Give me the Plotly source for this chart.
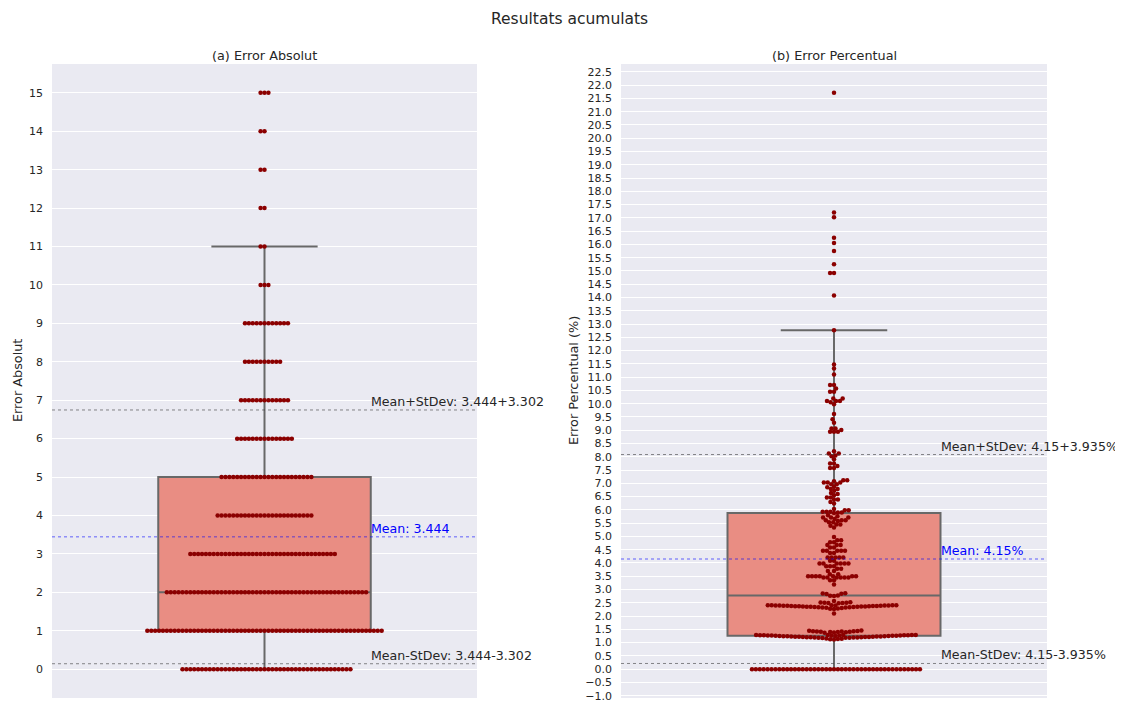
import numpy as np
import plotly.graph_objects as go

# ---------------- data ----------------
ABS_VALUES = [0, 1, 2, 3, 4, 5, 6, 7, 8, 9, 10, 11, 12, 13, 14, 15]
ABS_COUNTS = [44, 61, 52, 38, 25, 24, 15, 13, 10, 12, 3, 2, 2, 2, 2, 3]

PCT_ERROR = [
    0.0, 0.0, 0.0, 0.0, 0.0, 0.0, 0.0, 0.0, 0.0, 0.0, 0.0, 0.0, 0.0, 0.0, 0.0,
    0.0, 0.0, 0.0, 0.0, 0.0, 0.0, 0.0, 0.0, 0.0, 0.0, 0.0, 0.0, 0.0, 0.0, 0.0,
    0.0, 0.0, 0.0, 0.0, 0.0, 0.0, 0.0, 0.0, 0.0, 0.0, 0.0, 0.0, 0.0, 0.0,
    1.46, 1.45, 1.44, 1.43, 1.43, 1.42, 1.42, 1.41, 1.41, 1.40, 1.40, 1.39, 1.38, 1.37,
    1.29, 1.29, 1.29, 1.29, 1.29, 1.28, 1.28, 1.28, 1.28, 1.27, 1.27, 1.27,
    1.27, 1.26, 1.26, 1.26, 1.26, 1.25, 1.25, 1.25, 1.24, 1.24, 1.24, 1.23,
    1.23, 1.23, 1.22, 1.22, 1.22, 1.21, 1.21, 1.21, 1.20, 1.20, 1.20, 1.19,
    1.19, 1.19, 1.18, 1.18, 1.18, 1.17, 1.16, 1.15, 1.14, 1.13, 1.12,
    2.86, 2.85, 2.84, 2.83, 2.78, 2.77, 2.76,
    2.57, 2.52, 2.51, 2.50, 2.50, 2.49, 2.49, 2.48,
    2.41, 2.41, 2.41, 2.41, 2.41, 2.40, 2.40, 2.40, 2.40, 2.40, 2.39, 2.39,
    2.39, 2.38, 2.38, 2.38, 2.37, 2.37, 2.37, 2.36, 2.36, 2.36, 2.35, 2.35,
    2.35, 2.34, 2.34, 2.33, 2.33, 2.32, 2.32, 2.31, 2.30, 2.29, 2.28, 2.27,
    2.10,
    3.19, 3.35, 3.35, 3.45, 3.45, 3.45, 3.45, 3.45, 3.45, 3.50, 3.50, 3.50,
    3.50, 3.50, 3.50, 3.50, 3.58, 3.58, 3.70, 3.70, 3.78, 3.78, 3.88, 3.88,
    3.88, 3.98, 3.98, 3.98, 3.98, 3.98, 3.98, 4.08, 4.08, 4.21, 4.21, 4.21,
    4.21, 4.21, 4.38, 4.38, 4.46, 4.46, 4.46, 4.46, 4.46, 4.58, 4.58, 4.68,
    4.68, 4.68, 4.78, 4.78, 4.86, 4.86, 4.98,
    5.34, 5.40, 5.45, 5.45, 5.53, 5.53, 5.58, 5.61, 5.61, 5.61, 5.66, 5.71,
    5.71, 5.71, 5.76, 5.80, 5.88, 5.90, 5.90, 5.93, 5.93, 5.93, 5.99, 5.99,
    6.03, 6.24, 6.30, 6.39, 6.39, 6.47, 6.47, 6.55, 6.60, 6.64, 6.72, 6.79,
    6.79, 6.85, 6.87, 6.97, 6.97, 7.03, 7.03, 7.03, 7.08, 7.12, 7.12,
    7.58, 7.58, 7.65, 7.75, 7.75, 7.91, 8.02, 8.05, 8.12, 8.12, 8.21,
    8.94, 8.94, 8.94, 9.01, 9.07, 9.07, 9.28, 9.41, 9.61, 9.98, 10.05, 10.10,
    10.10, 10.10, 10.20, 10.20,
    10.45, 10.45, 10.57, 10.70, 10.70, 11.10, 11.33, 11.48,
    12.77,
    14.08, 14.92, 14.92, 15.25, 15.75, 16.05, 16.25, 17.02, 17.20, 21.71,
]

ABS_MEAN, ABS_STD = 3.444, 3.302
PCT_MEAN, PCT_STD = 4.15, 3.935

TITLE = "Resultats acumulats"
SUBTITLES = ["(a) Error Absolut", "(b) Error Percentual"]
YLABELS = ["Error Absolut", "Error Percentual (%)"]

# ---------------- layout constants ----------------
PAGE_OFF = 8                      # default body margin of the html page
W, H = 1123 - PAGE_OFF, 702 - PAGE_OFF
PLOT_TOP, PLOT_BOTTOM = 64 - PAGE_OFF, 698 - PAGE_OFF
LEFT_PX = (52 - PAGE_OFF, 477 - PAGE_OFF)
RIGHT_PX = (621 - PAGE_OFF, 1047 - PAGE_OFF)
FONT = "DejaVu Sans"
TXT = "#262626"
BOX_FILL = "#E98D83"
BOX_LINE = "#686868"
DOT = "#8B0000"
BG = "#EAEAF2"
DOT_R = 1.86  # px

abs_data = np.repeat(np.array(ABS_VALUES, float), ABS_COUNTS)
pct_data = np.array(PCT_ERROR, float)


def auto_range(d):
    lo, hi = float(d.min()), float(d.max())
    m = 0.05 * (hi - lo)
    return [lo - m, hi + m]


def box_stats(d):
    q1, med, q3 = np.percentile(d, [25, 50, 75])
    iqr = q3 - q1
    lf = d[d >= q1 - 1.5 * iqr].min()
    uf = d[d <= q3 + 1.5 * iqr].max()
    return q1, med, q3, lf, uf


def beeswarm(values, px_per_y, r):
    vals = np.asarray(values, float)
    order = np.argsort(vals, kind="mergesort")
    ys = vals[order] * px_per_y
    swarm = []
    for y in ys:
        neighbors = []
        for xj, yj in reversed(swarm):
            if y - yj < 2 * r:
                neighbors.append((xj, yj))
            else:
                break
        if not neighbors:
            swarm.append((0.0, y))
            continue
        cands = [0.0]
        left_first = True
        for xj, yj in neighbors:
            dy = y - yj
            dx = np.sqrt(max((2 * r) ** 2 - dy ** 2, 0.0)) * 1.05
            cands += [xj - dx, xj + dx] if left_first else [xj + dx, xj - dx]
            left_first = not left_first
        cands = sorted(cands, key=abs)
        nx = np.array([n[0] for n in neighbors])
        ny = np.array([n[1] for n in neighbors])
        chosen = cands[-1]
        for c in cands:
            if np.all((nx - c) ** 2 + (ny - y) ** 2 >= (2 * r) ** 2 - 1e-9):
                chosen = c
                break
        swarm.append((chosen, y))
    xs = np.empty(len(vals))
    xs[order] = [s[0] for s in swarm]
    return xs


fig = go.Figure()
plot_h = PLOT_BOTTOM - PLOT_TOP
panels = [
    (abs_data, LEFT_PX, "x", "y", ABS_MEAN, ABS_STD, "", 1.0, ".0f", 17),
    (pct_data, RIGHT_PX, "x2", "y2", PCT_MEAN, PCT_STD, "%", 0.5, ".1f", 573),
]
for i, (d, pxr, xa, ya, mean, std, unit, dtick, fmt, lab_px) in enumerate(panels):
    yr = auto_range(d)
    px_per_y = plot_h / (yr[1] - yr[0])
    px_per_x = (pxr[1] - pxr[0]) / 1.0
    q1, med, q3, lf, uf = box_stats(d)
    fig.add_trace(go.Box(
        x=[0], q1=[q1], median=[med], q3=[q3], lowerfence=[lf], upperfence=[uf],
        orientation="v", width=0.5, whiskerwidth=0.5, fillcolor=BOX_FILL,
        line=dict(color=BOX_LINE, width=2), boxpoints=False,
        xaxis=xa, yaxis=ya, showlegend=False, hoverinfo="skip"))
    xs = beeswarm(d, px_per_y, DOT_R) / px_per_x
    fig.add_trace(go.Scatter(
        x=xs, y=d, mode="markers", xaxis=xa, yaxis=ya, showlegend=False,
        marker=dict(color=DOT, size=4.5, line=dict(width=0))))

    suffix = "" if i == 0 else "2"
    fig.update_layout({
        "xaxis" + suffix: dict(domain=[pxr[0] / W, pxr[1] / W], range=[-0.5, 0.5],
                               showticklabels=False, showgrid=False, zeroline=False,
                               fixedrange=True, anchor=ya),
        "yaxis" + suffix: dict(domain=[(H - PLOT_BOTTOM) / H, (H - PLOT_TOP) / H], range=yr,
                               dtick=dtick, tick0=0, tickformat=fmt, showgrid=True,
                               gridcolor="white", gridwidth=1, zeroline=False, ticks="",
                               ticklabelstandoff=8, automargin=False,
                               ticklabeloverflow="allow",
                               tickfont=dict(family=FONT, size=11, color=TXT), anchor=xa),
    })

    lines = [(mean + std, "#3a3a3a", f"Mean+StDev: {mean}+{std}{unit}", TXT),
             (mean, "blue", f"Mean: {mean}{unit}", "blue"),
             (round(mean - std, 3), "#3a3a3a", f"Mean-StDev: {mean}-{std}{unit}", TXT)]
    for yv, lc, text, tc in lines:
        fig.add_shape(type="line", xref=xa, yref=ya, x0=-0.5, x1=0.5, y0=yv, y1=yv,
                      line=dict(color=lc, width=0.6, dash="dot"), layer="above")
        fig.add_annotation(xref=xa, yref=ya, x=0.25, y=yv, text=text, showarrow=False,
                           xanchor="left", yanchor="bottom", xshift=-2, yshift=-1,
                           font=dict(family=FONT, size=12.6, color=tc))

    cx = (pxr[0] + pxr[1]) / 2 / W
    fig.add_annotation(xref="paper", yref="paper", x=cx, y=(H - PLOT_TOP) / H,
                       text=SUBTITLES[i], showarrow=False, xanchor="center",
                       yanchor="bottom", yshift=-1,
                       font=dict(family=FONT, size=12.8, color=TXT))
    fig.add_annotation(xref="paper", yref="paper", x=(lab_px - PAGE_OFF) / W,
                       y=(H - (PLOT_TOP + PLOT_BOTTOM) / 2) / H,
                       text=YLABELS[i], showarrow=False, textangle=-90,
                       xanchor="center", yanchor="middle",
                       font=dict(family=FONT, size=12.8, color=TXT))

fig.add_annotation(xref="paper", yref="paper", x=(569.5 - PAGE_OFF) / W,
                   y=(H - (19 - PAGE_OFF)) / H,
                   text=TITLE, showarrow=False, xanchor="center", yanchor="middle",
                   font=dict(family=FONT, size=15.5, color=TXT))

fig.update_layout(width=W, height=H, margin=dict(l=0, r=0, t=0, b=0),
                  paper_bgcolor="white", plot_bgcolor=BG, showlegend=False,
                  font=dict(family=FONT, color=TXT))

fig.write_html("out.html")
